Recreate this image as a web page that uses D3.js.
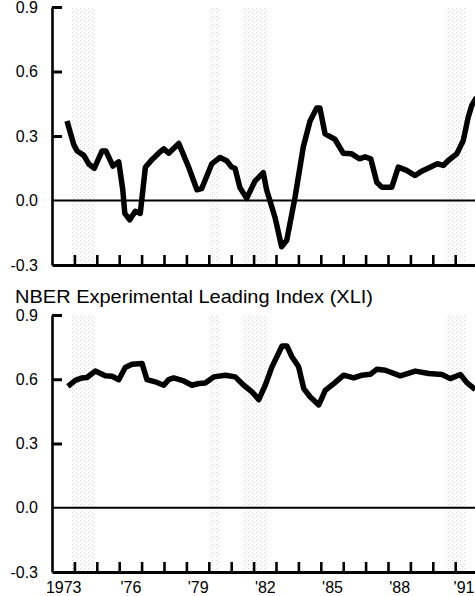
<!DOCTYPE html>
<html>
<head>
<meta charset="utf-8">
<script src="https://cdn.jsdelivr.net/npm/d3@7"></script>
<style>
  html, body { margin: 0; padding: 0; background: #fff; }
  svg { display: block; }
  text { font-family: Arial, "Liberation Sans", Helvetica, sans-serif; fill: #000; }
</style>
</head>
<body>
<svg id="chart" width="475" height="596"></svg>
<script>
// ---- data ----------------------------------------------------------
const yearLabels = ["1973", "'76", "'79", "'82", "'85", "'88", "'91"];
const labelYears = [1973, 1976, 1979, 1982, 1985, 1988, 1991];
const tickYears = d3.range(1974, 1992);           // year boundaries
const yTicks = [-0.3, 0.0, 0.3, 0.6, 0.9];
const recessionStart = [1973.85, 1980.05, 1981.55, 1990.55];
const recessionEnd   = [1974.95, 1980.45, 1982.65, 1991.45];

// upper panel series
const topDates = [1973.67, 1973.97, 1974.12, 1974.42, 1974.64, 1974.89, 1975.23, 1975.41,
  1975.72, 1975.98, 1976.16, 1976.25, 1976.47, 1976.72, 1976.94, 1977.17, 1977.46, 1977.76,
  1977.99, 1978.21, 1978.66, 1979.10, 1979.47, 1979.68, 1980.13, 1980.50, 1980.80, 1981.02,
  1981.17, 1981.39, 1981.69, 1982.06, 1982.43, 1982.58, 1982.96, 1983.25, 1983.48, 1983.85,
  1984.22, 1984.52, 1984.82, 1984.96, 1985.19, 1985.63, 1986.00, 1986.38, 1986.72, 1986.97,
  1987.23, 1987.50, 1987.72, 1988.17, 1988.46, 1988.83, 1989.21, 1989.50, 1989.88, 1990.20,
  1990.47, 1990.69, 1991.07, 1991.36, 1991.58, 1991.74, 1991.95];
const topValues = [0.37, 0.26, 0.23, 0.21, 0.17, 0.15, 0.23, 0.23,
  0.16, 0.18, 0.05, -0.06, -0.09, -0.05, -0.06, 0.155, 0.19, 0.22,
  0.24, 0.22, 0.265, 0.155, 0.05, 0.055, 0.17, 0.20, 0.185, 0.155,
  0.15, 0.06, 0.01, 0.09, 0.13, 0.05, -0.08, -0.215, -0.185, 0.015,
  0.25, 0.37, 0.43, 0.43, 0.31, 0.285, 0.22, 0.217, 0.194, 0.203,
  0.194, 0.085, 0.062, 0.062, 0.155, 0.14, 0.116, 0.136, 0.155, 0.171,
  0.163, 0.186, 0.217, 0.279, 0.387, 0.442, 0.48];

// lower panel: NBER Experimental Leading Index
const xliTitle = "NBER Experimental Leading Index (XLI)";
const xliDates = [1973.71, 1974.04, 1974.34, 1974.56, 1974.93, 1975.38, 1975.68, 1975.98,
  1976.27, 1976.57, 1977.02, 1977.24, 1977.61, 1977.99, 1978.21, 1978.43, 1978.88, 1979.25,
  1979.55, 1979.84, 1980.22, 1980.74, 1981.18, 1981.56, 1981.93, 1982.23, 1982.52, 1982.82,
  1983.27, 1983.49, 1983.71, 1984.01, 1984.24, 1984.53, 1984.91, 1985.20, 1985.58, 1986.02,
  1986.47, 1986.84, 1987.21, 1987.51, 1987.88, 1988.55, 1989.22, 1989.82, 1990.41, 1990.78,
  1991.23, 1991.53, 1991.90];
const xliValues = [0.567, 0.595, 0.606, 0.608, 0.638, 0.616, 0.614, 0.598,
  0.655, 0.670, 0.674, 0.598, 0.588, 0.572, 0.598, 0.606, 0.592, 0.572,
  0.580, 0.583, 0.611, 0.619, 0.611, 0.572, 0.541, 0.505, 0.572, 0.658,
  0.755, 0.755, 0.705, 0.658, 0.556, 0.517, 0.480, 0.548, 0.580, 0.619,
  0.606, 0.619, 0.623, 0.647, 0.642, 0.616, 0.638, 0.627, 0.622, 0.603,
  0.622, 0.583, 0.552];

// ---- drawing -------------------------------------------------------
const svg = d3.select("#chart");
const W = 475;
const axisX = 52;

const x = d3.scaleLinear().domain([1973, 1992]).range([axisX, axisX + 19 * 22.4]);

// light dotted fill for recession periods
const defs = svg.append("defs");
const pat = defs.append("pattern")
  .attr("id", "speckle").attr("patternUnits", "userSpaceOnUse")
  .attr("width", 4).attr("height", 4);
pat.append("rect").attr("x", 0).attr("y", 0).attr("width", 1).attr("height", 1).attr("fill", "#c4c4c4");
pat.append("rect").attr("x", 2).attr("y", 2).attr("width", 1).attr("height", 1).attr("fill", "#d6d6d6");

const fmt = v => v.toFixed(1);

function panel(top, bottom, dates, values, withYearLabels) {
  const y = d3.scaleLinear().domain([-0.3, 0.9]).range([bottom, top]);
  const g = svg.append("g");

  // recession bands
  g.selectAll("rect.rec").data(recessionStart).join("rect")
    .attr("class", "rec")
    .attr("x", (d, i) => x(d))
    .attr("width", (d, i) => x(recessionEnd[i]) - x(d))
    .attr("y", y(0.9))
    .attr("height", y(-0.3) - y(0.9))
    .attr("fill", "url(#speckle)")
    .attr("opacity", 0.75);

  // zero line
  g.append("line")
    .attr("x1", axisX).attr("x2", W)
    .attr("y1", y(0)).attr("y2", y(0))
    .attr("stroke", "#000").attr("stroke-width", 2);

  // left axis: inward ticks
  const yAxis = g.append("g").attr("transform", `translate(${axisX},0)`)
    .call(d3.axisRight(y).tickValues([0.3, 0.6, 0.9]).tickSize(10).tickSizeOuter(0).tickFormat(""));
  yAxis.select(".domain").attr("stroke-width", 2.6);
  yAxis.selectAll(".tick line").attr("stroke-width", 3);

  // left axis labels
  const yLab = g.append("g").attr("transform", `translate(${axisX},0)`)
    .call(d3.axisLeft(y).tickValues(yTicks).tickSize(0).tickPadding(14).tickFormat(fmt));
  yLab.select(".domain").remove();
  yLab.selectAll("text").attr("font-size", 16).attr("font-family", null);

  // bottom axis: inward ticks at year boundaries
  const xAxis = g.append("g").attr("transform", `translate(0,${y(-0.3)})`)
    .call(d3.axisTop(x).tickValues(tickYears).tickSize(10).tickSizeOuter(0).tickFormat(""));
  xAxis.select(".domain").attr("stroke-width", 3);
  xAxis.selectAll(".tick line").attr("stroke-width", 2.6);

  if (withYearLabels) {
    const xLab = g.append("g").attr("transform", `translate(0,${y(-0.3)})`)
      .call(d3.axisBottom(x).tickValues(labelYears.map(v => v + 0.5)).tickSize(0)
        .tickFormat((d, i) => yearLabels[i]));
    xLab.select(".domain").remove();
    xLab.selectAll("text").attr("font-size", 16).attr("font-family", null)
      .attr("dy", null).attr("y", 21);
    // keep the last year label inside the right edge
    xLab.selectAll(".tick").each(function (d) {
      const t = d3.select(this).select("text");
      const box = this.getBBox();
      const cx = x(d);
      const overflow = cx + box.width / 2 - (W - 1);
      if (overflow > 0) t.attr("x", -overflow);
    });
  }

  // series
  const pts = dates.map((t, i) => ({ t, v: values[i] }));
  g.append("path").datum(pts)
    .attr("fill", "none").attr("stroke", "#000")
    .attr("stroke-width", 5.5).attr("stroke-linejoin", "round")
    .attr("d", d3.line().x(d => x(d.t)).y(d => y(d.v)));
  return y;
}

panel(7, 265, topDates, topValues, false);

svg.append("text")
  .attr("x", 15).attr("y", 303)
  .attr("font-size", 19)
  .attr("textLength", 358).attr("lengthAdjust", "spacingAndGlyphs")
  .text(xliTitle);

panel(315, 572, xliDates, xliValues, true);
</script>
</body>
</html>
